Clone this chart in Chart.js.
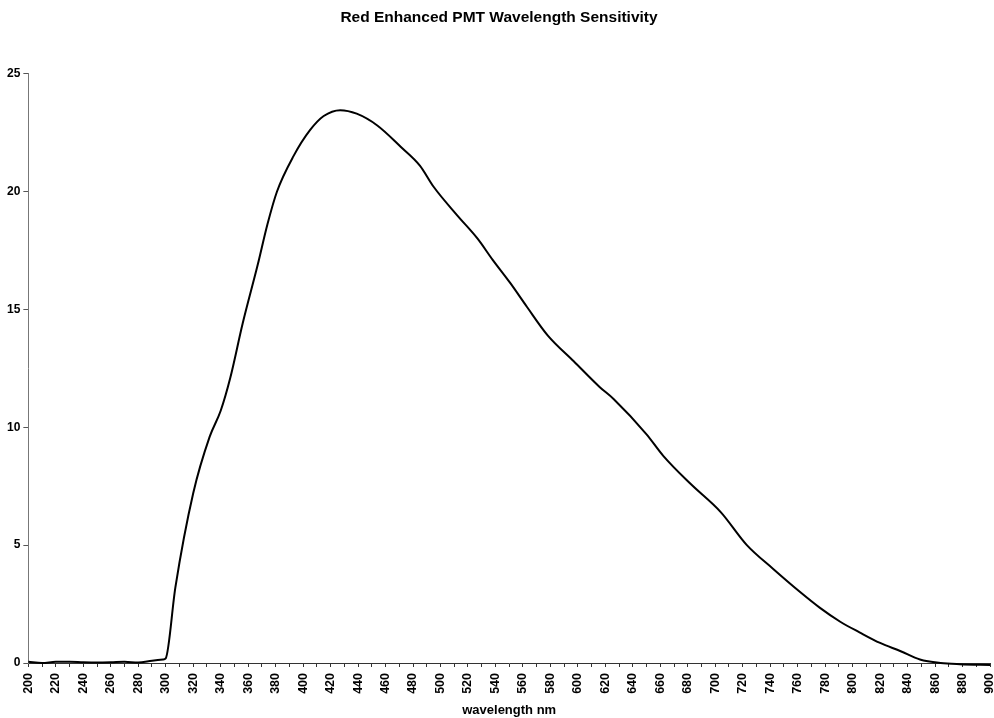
<!DOCTYPE html>
<html lang="en">
<head>
    <meta charset="UTF-8">
    <title>Red Enhanced PMT Wavelength Sensitivity</title>
    <script src="https://cdn.jsdelivr.net/npm/chart.js"></script>
    <style>
        html, body { margin: 0; padding: 0; background: #fff; }
        #wrap { width: 994px; height: 718px; }
    </style>
</head>
<body>
    <div id="wrap"><canvas id="chart"></canvas></div>

    <script>
        // data
        var wavelengths = [200, 210, 220, 230, 240, 250, 260, 270, 280, 290, 298, 300,
            307, 320, 332, 340, 347, 356, 367, 374, 381, 393, 405, 415, 427, 439,
            454, 471, 485, 495, 512, 527, 538, 551, 563, 578, 597, 616, 626, 650,
            662, 682, 704, 723, 742, 762, 776, 791, 805, 820, 835, 849, 864, 878, 900];
        var sensitivity = [0.05, 0.0, 0.05, 0.05, 0.03, 0.02, 0.03, 0.05, 0.02, 0.1, 0.15, 0.2,
            3.2, 7.2, 9.6, 10.7, 12.1, 14.4, 16.9, 18.6, 20.0, 21.5, 22.6, 23.2, 23.45, 23.3,
            22.8, 21.9, 21.1, 20.2, 19.0, 18.0, 17.1, 16.1, 15.1, 13.9, 12.8, 11.7, 11.2, 9.7,
            8.8, 7.6, 6.4, 5.0, 4.0, 3.0, 2.35, 1.75, 1.3, 0.85, 0.5, 0.15, 0.0, -0.05, -0.08];
        var yTicks = [0, 5, 10, 15, 20, 25];

        var points = wavelengths.map(function(w, i) { return { x: w, y: sensitivity[i] }; });

        var ctx = document.getElementById('chart').getContext('2d');
        new Chart(ctx, {
            type: 'line',
            data: {
                datasets: [{
                    data: points,
                    borderColor: '#000',
                    borderWidth: 2,
                    pointRadius: 0,
                    cubicInterpolationMode: 'monotone',
                    clip: false,
                    fill: false
                }]
            },
            options: {
                responsive: true,
                maintainAspectRatio: false,
                animation: false,
                layout: { padding: { left: 4, right: 0, top: 0, bottom: 0 } },
                plugins: {
                    legend: { display: false },
                    tooltip: { enabled: false },
                    title: {
                        display: true,
                        text: 'Red Enhanced PMT Wavelength Sensitivity',
                        color: '#000',
                        font: { family: 'Liberation Sans', size: 15.5, weight: 'bold' },
                        padding: { top: 8, bottom: 47 }
                    }
                },
                scales: {
                    x: {
                        type: 'linear',
                        min: 200,
                        max: 900,
                        afterFit: function(scale) {
                            scale.height = 55;
                            scale.paddingRight = 4;
                        },
                        grid: { drawOnChartArea: false, drawTicks: true, tickLength: 4, color: '#333' },
                        border: { color: '#333', width: 1, dash: [6, 2] },
                        ticks: {
                            stepSize: 10,
                            autoSkip: false,
                            minRotation: 90,
                            maxRotation: 90,
                            padding: 6,
                            color: '#000',
                            font: { family: 'Liberation Sans', size: 12.5, weight: 'bold' },
                            callback: function(v) { return v % 20 === 0 ? String(v) : ''; }
                        },
                        title: {
                            display: true,
                            text: 'wavelength nm',
                            color: '#000',
                            font: { family: 'Liberation Sans', size: 13, weight: 'bold' },
                            padding: { top: 3, bottom: 0 }
                        }
                    },
                    y: {
                        min: 0,
                        max: 25,
                        afterBuildTicks: function(axis) {
                            axis.ticks = yTicks.map(function(v) { return { value: v }; });
                        },
                        grid: { drawOnChartArea: false, drawTicks: true, tickLength: 5, color: '#555' },
                        border: { color: '#777', width: 1, dash: [2, 2] },
                        ticks: {
                            padding: 3,
                            color: '#000',
                            font: { family: 'Liberation Sans', size: 12, weight: 'bold' }
                        }
                    }
                }
            }
        });
    </script>
</body>
</html>
